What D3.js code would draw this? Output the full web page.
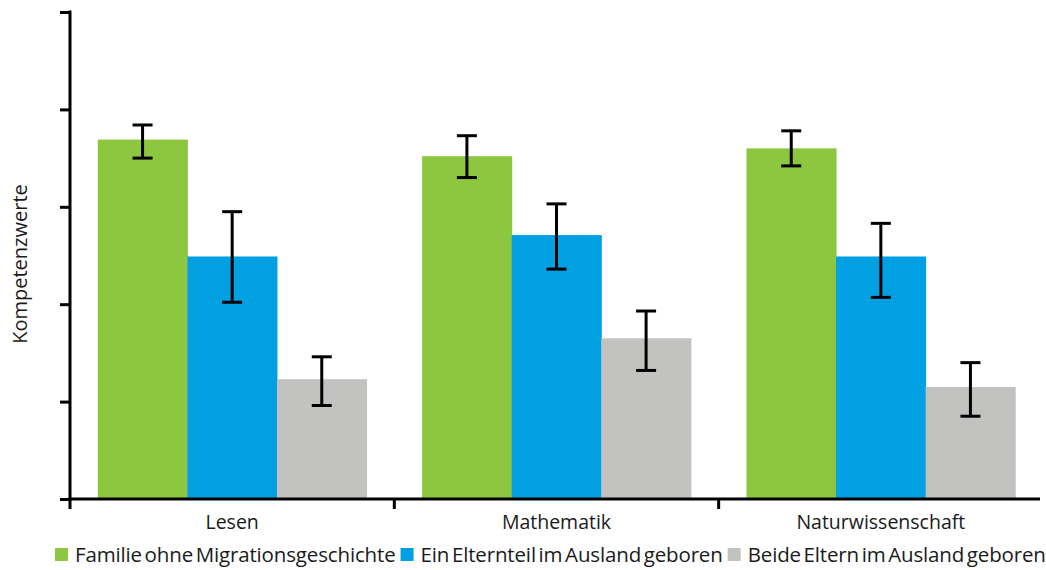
<!DOCTYPE html>
<html>
<head>
<meta charset="utf-8">
<script src="https://cdn.jsdelivr.net/npm/d3@7"></script>
<style>
  body { margin: 0; background: #fff; }
  svg { display: block; font-family: "Open Sans", "Noto Sans", sans-serif; }
</style>
</head>
<body>
<svg id="chart" width="1046" height="570"></svg>
<script>
// Daten (Skala ohne Beschriftung)
const categories = ["Lesen", "Mathematik", "Naturwissenschaft"];
const groups = ["Familie ohne Migrationsgeschichte", "Ein Elternteil im Ausland geboren", "Beide Eltern im Ausland geboren"];
const colors = ["#8dc63f", "#00a0e3", "#c2c2c0"];

const meanFamilie = [369, 352, 360];
const lowFamilie = [350, 330, 342];
const highFamilie = [384, 373, 378];

const meanEinElternteil = [249, 271, 249];
const lowEinElternteil = [202, 236, 207];
const highEinElternteil = [295, 303, 283];

const meanBeide = [123, 165, 115];
const lowBeide = [96, 132, 85];
const highBeide = [146, 193, 140];

const yTicks = [0, 100, 200, 300, 400, 500];

const means = [meanFamilie, meanEinElternteil, meanBeide];
const lows = [lowFamilie, lowEinElternteil, lowBeide];
const highs = [highFamilie, highEinElternteil, highBeide];

const data = categories.map((c, ci) => ({
    category: c,
    values: groups.map((g, gi) => ({
        group: g,
        mean: means[gi][ci],
        low: lows[gi][ci],
        high: highs[gi][ci]
    }))
}));

const svg = d3.select("#chart");
const margin = { top: 12, right: 3, bottom: 71, left: 70 };
const width = 1046 - margin.left - margin.right;
const height = 570 - margin.top - margin.bottom;

const g = svg.append("g")
    .attr("transform", `translate(${margin.left},${margin.top})`);

// Skalen
const x0 = d3.scaleBand()
    .domain(categories)
    .range([0, width]);

const x1 = d3.scaleBand()
    .domain(groups)
    .range([0, x0.bandwidth()])
    .paddingOuter(0.31);

const y = d3.scaleLinear()
    .domain([0, 500])
    .range([height, 0]);

const color = d3.scaleOrdinal().domain(groups).range(colors);

// Balken
const catG = g.selectAll(".cat")
    .data(data)
    .enter().append("g")
    .attr("class", "cat")
    .attr("transform", d => `translate(${x0(d.category)},0)`);

catG.selectAll("rect")
    .data(d => d.values)
    .enter().append("rect")
    .attr("x", d => x1(d.group))
    .attr("width", x1.bandwidth() + 0.5)
    .attr("y", d => y(d.mean))
    .attr("height", d => height - y(d.mean))
    .attr("fill", d => color(d.group));

// Fehlerbalken
const capW = 10;
const err = catG.selectAll(".err")
    .data(d => d.values)
    .enter().append("g")
    .attr("class", "err")
    .attr("stroke", "#000")
    .attr("stroke-width", 3);

err.append("line")
    .attr("x1", d => x1(d.group) + x1.bandwidth() / 2)
    .attr("x2", d => x1(d.group) + x1.bandwidth() / 2)
    .attr("y1", d => y(d.high))
    .attr("y2", d => y(d.low));

err.append("line")
    .attr("x1", d => x1(d.group) + x1.bandwidth() / 2 - capW)
    .attr("x2", d => x1(d.group) + x1.bandwidth() / 2 + capW)
    .attr("y1", d => y(d.high))
    .attr("y2", d => y(d.high));

err.append("line")
    .attr("x1", d => x1(d.group) + x1.bandwidth() / 2 - capW)
    .attr("x2", d => x1(d.group) + x1.bandwidth() / 2 + capW)
    .attr("y1", d => y(d.low))
    .attr("y2", d => y(d.low));

// Achsen
const yAxis = g.append("g")
    .call(d3.axisLeft(y).tickValues(yTicks).tickSize(10).tickSizeOuter(0).tickFormat(""));

const xAxis = g.append("g")
    .attr("transform", `translate(0,${height})`)
    .call(d3.axisBottom(x0).tickSize(0).tickSizeOuter(0).tickPadding(16));

// Trennstriche zwischen den Gruppen
xAxis.selectAll(".sep")
    .data(categories)
    .enter().append("line")
    .attr("class", "sep")
    .attr("x1", d => x0(d))
    .attr("x2", d => x0(d))
    .attr("y1", 0)
    .attr("y2", 10);

[yAxis, xAxis].forEach(a => {
    a.selectAll("path, line").attr("stroke", "#000").attr("stroke-width", 3);
});
yAxis.select(".domain").attr("d", `M0,${y(500) - 1.5}V${height + 1.5}`);
xAxis.select(".domain").attr("d", `M-1.5,0H${width - 3}`);

xAxis.selectAll("text")
    .attr("fill", "#1a1a1a")
    .style("font-size", "19.5px")
    .style("font-family", "\"Open Sans\", sans-serif");

// Achsentitel
svg.append("text")
    .attr("transform", "translate(27,264) rotate(-90)")
    .attr("text-anchor", "middle")
    .attr("fill", "#1a1a1a")
    .style("font-size", "20px")
    .text("Kompetenzwerte");

// Legende
const legend = svg.append("g")
    .attr("transform", "translate(55,562)");

let lx = 0;
groups.forEach(grp => {
    const item = legend.append("g").attr("transform", `translate(${lx},0)`);
    item.append("rect")
        .attr("x", 0)
        .attr("y", -14)
        .attr("width", 13)
        .attr("height", 13)
        .attr("fill", color(grp));
    const t = item.append("text")
        .attr("x", 20)
        .attr("y", 0)
        .attr("fill", "#1a1a1a")
        .style("font-size", "20.5px")
        .style("letter-spacing", "-0.15px")
        .style("word-spacing", "-2.5px")
        .text(grp);
    lx += 20 + t.node().getComputedTextLength() + 5;
});
</script>
</body>
</html>
